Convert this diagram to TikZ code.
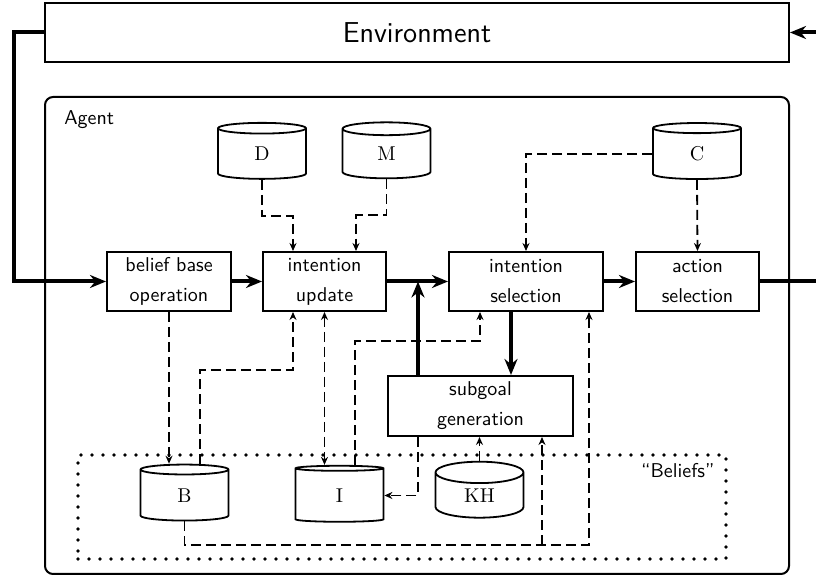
\documentclass[tikz,border=0pt]{standalone}
\usetikzlibrary{shapes.geometric,arrows.meta}
\begin{document}
\begin{tikzpicture}[x=0.5pt,y=-0.5pt,
  proc/.style={draw, line width=1pt, minimum height=29.5pt, align=center, font=\sffamily, inner sep=0pt},
  store/.style={draw, line width=0.9pt, cylinder, shape border rotate=90, aspect=0.7, minimum width=44pt, minimum height=28pt, inner sep=0pt},
  flow/.style={line width=2pt, -{Stealth[length=8pt,width=6.5pt]}},
  info/.style={line width=0.9pt, dash pattern=on 5pt off 2.5pt, -{Stealth[length=4pt,width=3.5pt]}}]
\useasboundingbox (0,0) rectangle (816,576);
% outer boxes
\node[draw, line width=1pt, minimum width=372pt, minimum height=29.5pt, font=\Large\sffamily] (env) at (417,32.5){Environment};
\node[draw, line width=1pt, rounded corners=4pt, minimum width=372pt, minimum height=238.5pt] (agent) at (417,335.5){};
\node[anchor=north west, font=\sffamily, inner sep=0pt] (agentlbl) at ([xshift=10pt,yshift=-7pt]agent.north west){Agent};
\node[line width=1.9pt, dash pattern=on 0pt off 5.5pt, line cap=round, draw, minimum width=324pt, minimum height=52pt] (beliefs) at (402,507){};
\node[anchor=north east, font=\sffamily, inner sep=0pt] (beliefslbl) at ([xshift=-6.5pt,yshift=-5pt]beliefs.north east){``Beliefs''};
% processes
\node[proc, minimum width=62pt] (bbo) at (169,281.5){belief base\\[3pt]operation};
\node[proc, minimum width=61.5pt] (iupd) at (324.5,281.5){intention\\[3pt]update};
\node[proc, minimum width=77pt] (isel) at (526,281.5){intention\\[3pt]selection};
\node[proc, minimum width=61.5pt] (asel) at (697.5,281.5){action\\[3pt]selection};
\node[proc, minimum width=92.5pt, minimum height=30pt] (sgen) at (480.5,406){subgoal\\[3pt]generation};
% stores
\node[store] (D) at (262,154){D};
\node[store] (M) at (386.5,154){M};
\node[store] (C) at (697,154){C};
\node[store] (B) at (184.5,495.5){B};
\node[store] (I) at (339.5,495.5){I};
\node[store] (KH) at (479.5,495.5){KH};
% main flow
\coordinate (lft) at (14,0);
\coordinate (rgt) at (840,0);
\coordinate (j1) at (418,281.5);
\coordinate (fork) at (542,545);
\draw[flow] (env.west) -- (env.west -| lft) |- (bbo.west);
\draw[flow] (bbo) -- (iupd);
\draw[flow] (iupd) -- (isel);
\draw[flow] (isel) -- (asel);
\draw[flow] (asel.east) -- (asel.east -| rgt) |- (env.east);
\draw[flow] (sgen.north -| j1) -- (j1);
\draw[flow] (isel.south -| 511,0) -- (sgen.north -| 511,0);
% data
\draw[info] (D.south) -- ++(0,36) -| ([xshift=-15.75pt]iupd.north);
\draw[info] (M.south) -- ++(0,36) -| ([xshift=15.75pt]iupd.north);
\draw[info] (C.west) -| (isel.north);
\draw[info] (C.south) -- (asel.north);
\draw[info] (bbo.south) -- (bbo.south |- B.north);
\draw[info] ([xshift=7.75pt]B.north) -- ++(0,-94) -| ([xshift=-15.75pt]iupd.south);
\draw[info, {Stealth[length=4pt,width=3.5pt]}-{Stealth[length=4pt,width=3.5pt]}] (iupd.south) -- (iupd.south |- I.north);
\draw[info] ([xshift=7.75pt]I.north) -- ++(0,-124) -| ([xshift=-23pt]isel.south);
\draw[info] (sgen.south -| j1) |- (I.east);
\draw[info] (KH.north) -- (KH.north |- sgen.south);
\draw[info] (B.south) |- (fork) -| ([xshift=31.5pt]isel.south);
\draw[info] (fork) -- (sgen.south -| fork);
\end{tikzpicture}
\end{document}
